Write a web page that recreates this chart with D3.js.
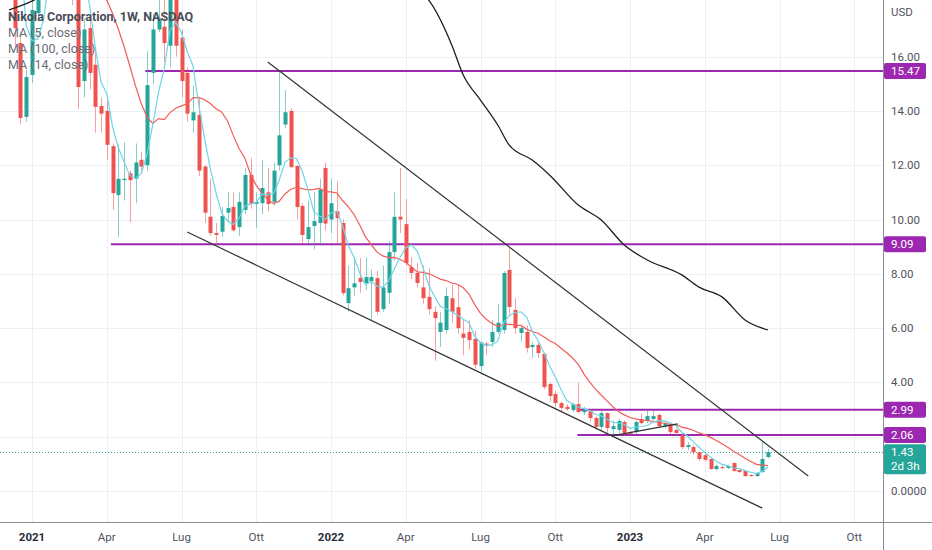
<!DOCTYPE html>
<html>
<head>
<meta charset="utf-8">
<script src="https://cdn.jsdelivr.net/npm/d3@7"></script>
<style>
  body { margin: 0; background: #fff; }
  svg { display: block; font-family: Roboto, "Liberation Sans", sans-serif; }
</style>
</head>
<body>
<div id="chart"></div>
<script>
// weekly bars, first bar week of 2020-12-07
var firstWeek = "2020-12-07";
var opens = [20.5,18.6,16.5,13.78,15.32,17.6,19.6,20.5,21.5,22.4,21.0,22.0,20.0,15.1,17.05,15.7,14.18,14.0,12.7,10.9,
  11.45,11.7,11.5,12.2,12.0,15.4,17.0,17.1,16.4,19.2,16.7,15.4,13.65,13.85,11.95,10.1,9.5,9.55,10.25,10.46,
  9.72,10.35,11.64,10.57,10.6,11.0,10.65,12.0,13.5,14.0,11.97,10.5,9.28,9.76,9.87,11.9,10.0,10.3,9.87,6.92,
  7.5,7.85,7.66,7.73,7.84,6.7,7.3,8.8,10.1,9.83,8.25,8.03,7.5,7.15,6.6,5.86,5.93,7.1,6.77,5.8,
  5.86,5.6,4.6,5.43,5.49,5.86,5.93,8.14,6.67,5.82,5.86,5.3,5.38,5.05,3.94,3.57,3.24,3.1,2.98,3.2,
  2.9,2.98,2.69,2.36,2.87,2.28,2.25,2.54,2.14,2.17,2.65,2.58,2.65,2.8,2.39,2.43,2.25,2.06,1.62,1.62,
  1.43,1.32,1.18,0.81,0.88,0.85,1.03,0.77,0.74,0.59,0.55,0.7,1.25];
var highs = [21.6,19.0,16.9,15.5,18.3,20.2,21.2,22.5,23.5,23.2,24.5,22.8,20.5,17.4,17.3,16.35,14.5,14.4,12.8,12.75,
  12.85,11.8,12.8,12.5,16.2,17.6,18.5,18.5,19.5,20.0,17.0,15.6,14.95,14.5,12.0,11.5,9.87,10.46,11.0,11.0,
  11.0,11.9,12.27,11.0,12.2,11.9,12.1,15.5,14.77,14.1,12.0,10.6,10.7,11.0,11.5,12.1,11.5,11.4,10.0,8.3,
  8.6,8.58,8.6,8.15,8.1,8.3,9.2,11.0,11.9,10.75,8.6,8.4,8.3,8.2,6.8,6.6,7.5,7.6,7.6,6.3,
  6.3,5.9,5.5,5.5,6.3,6.9,8.1,9.0,7.1,6.05,6.1,5.5,5.5,5.1,4.0,3.7,3.3,3.2,3.25,3.98,
  3.1,3.0,2.75,2.95,2.9,2.6,2.65,2.6,2.2,2.6,2.85,2.95,3.0,2.85,2.55,2.5,2.3,2.1,1.8,1.7,
  1.45,1.4,1.2,0.98,0.95,0.97,1.05,0.8,0.76,0.6,0.7,1.83,1.55];
var lows = [18.5,16.4,13.5,13.6,15.03,17.3,18.8,19.5,20.5,20.4,20.8,17.9,14.07,14.5,14.8,13.2,13.2,12.2,10.35,9.35,
  10.7,9.9,10.6,11.7,11.8,15.0,16.9,15.8,15.6,16.0,14.5,13.6,13.2,11.6,9.87,9.4,9.06,9.36,9.9,9.55,
  9.4,10.2,10.4,9.7,10.2,10.3,10.5,11.8,13.37,11.9,10.0,9.1,9.1,8.9,9.1,9.6,9.5,9.1,7.2,6.6,
  7.2,7.3,7.4,6.3,6.5,6.6,6.9,8.5,9.5,8.3,7.8,7.5,6.9,6.5,4.8,5.3,5.8,6.2,5.8,5.0,
  5.2,4.5,4.4,5.0,5.3,5.8,5.8,6.5,5.8,5.5,5.1,4.9,4.9,3.75,3.3,3.1,2.95,2.95,2.9,2.85,
  2.8,2.55,2.25,2.25,2.1,2.05,2.1,2.05,2.02,2.1,2.45,2.5,2.6,2.35,2.3,2.1,2.05,1.55,1.5,1.35,
  1.1,1.1,0.78,0.75,0.8,0.8,0.7,0.66,0.52,0.52,0.52,0.66,1.2];
var closes = [19.2,17.05,13.74,15.25,17.72,19.5,20.5,21.5,22.5,21.0,22.0,20.3,14.88,17.0,15.4,14.15,13.9,12.75,10.97,11.5,
  11.5,11.45,12.1,11.95,14.95,17.0,17.4,16.5,19.0,16.4,15.1,13.9,13.95,11.8,10.25,9.5,9.43,10.13,10.42,9.6,
  10.65,11.64,10.57,10.65,11.16,10.57,11.8,13.1,13.95,11.93,10.46,9.43,9.72,9.94,11.1,9.85,10.6,10.05,7.29,7.47,
  7.65,7.7,7.88,7.88,6.6,7.5,8.8,10.1,10.0,8.4,8.03,7.66,7.1,6.7,6.37,6.2,7.18,6.6,6.0,5.64,
  5.56,4.65,5.47,5.41,5.86,6.2,8.03,6.78,6.0,6.0,5.27,5.38,5.08,3.83,3.5,3.24,3.06,3.02,3.2,2.91,
  2.98,2.69,2.36,2.87,2.32,2.39,2.58,2.14,2.12,2.54,2.5,2.76,2.76,2.39,2.5,2.17,2.14,1.62,1.69,1.43,
  1.18,1.15,0.81,0.92,0.85,0.92,0.74,0.7,0.55,0.55,0.66,1.18,1.43];
// closes of the 13 weeks before the first bar (only feed the averages)
var priorCloses = [34.0,33.8,21.9,19.1,22.0,22.1,20.9,19.8,21.4,19.9,23.0,27.6,20.4];

var ma100Dates = ["2020-12-07","2020-12-28","2021-01-18","2021-04-26","2021-10-18","2022-01-31","2022-04-11","2022-05-02",
  "2022-05-30","2022-06-13","2022-07-04","2022-07-25","2022-08-08","2022-09-05","2022-09-26","2022-10-31",
  "2022-11-28","2022-12-26","2023-01-23","2023-03-06","2023-03-27","2023-04-24","2023-05-22","2023-06-19"];
var ma100Values = [17.72,17.95,18.25,19.2,19.9,19.4,18.6,18.08,16.43,15.32,14.4,13.48,12.74,12.19,11.64,10.53,
  9.98,9.06,8.51,7.96,7.51,7.15,6.3,5.93];

var levelValues = [15.47, 9.09, 2.99, 2.06];
var levelStarts = ["2021-05-22", "2021-04-10", "2022-10-30", "2022-10-30"];

var trendDates = [["2021-10-18","2023-08-07"], ["2021-07-12","2023-06-12"], ["2022-12-11","2023-03-01"]];
var trendValues = [[15.8, 0.55], [9.54, -0.63], [2.03, 2.47]];

var tickDates = ["2021-01-04","2021-04-05","2021-07-05","2021-10-04","2022-01-03","2022-04-04",
  "2022-07-04","2022-10-03","2023-01-02","2023-04-03","2023-07-03","2023-10-02"];
var tickLabels = ["2021","Apr","Lug","Ott","2022","Apr","Lug","Ott","2023","Apr","Lug","Ott"];
var priceTicks = [0, 2, 4, 6, 8, 10, 12, 14, 16];
var priceTickLabels = ["0.0000","2.00","4.00","6.00","8.00","10.00","12.00","14.00","16.00"];

var lastPrice = 1.43, countdown = "2d 3h";

var width = 932, height = 550,
    plotRight = 883, plotBottom = 522;
var up = "#26a69a", down = "#ef5350", purple = "#9c27b0";

var parse = d3.utcParse("%Y-%m-%d");
var start = parse(firstWeek);
var dates = closes.map(function(d, i) { return d3.utcMonday.offset(start, i); });

var x = d3.scaleUtc()
    .domain([parse("2021-01-04"), parse("2023-01-02")])
    .range([32, 630]);
var y = d3.scaleLinear()
    .domain([0, 16])
    .range([491, 491 - 16 * 27.15]);

var svg = d3.select("#chart").append("svg")
    .attr("width", width)
    .attr("height", height);

svg.append("defs").append("clipPath").attr("id", "plot")
  .append("rect").attr("width", plotRight).attr("height", plotBottom);

// grid
var grid = svg.append("g");
grid.selectAll(".hg").data(priceTicks).enter().append("line")
    .attr("x1", 0).attr("x2", plotRight)
    .attr("y1", function(d) { return Math.round(y(d)) + 0.5; })
    .attr("y2", function(d) { return Math.round(y(d)) + 0.5; })
    .attr("stroke", "#eaf0f6");
grid.selectAll(".vg").data(tickDates).enter().append("line")
    .attr("x1", function(d) { return Math.round(x(parse(d))) + 0.5; })
    .attr("x2", function(d) { return Math.round(x(parse(d))) + 0.5; })
    .attr("y1", 0).attr("y2", plotBottom)
    .attr("stroke", "#eaf0f6");

var plot = svg.append("g").attr("clip-path", "url(#plot)");

// last price dotted line
plot.append("line")
    .attr("x1", 0).attr("x2", plotRight)
    .attr("y1", Math.round(y(lastPrice)) + 0.5).attr("y2", Math.round(y(lastPrice)) + 0.5)
    .attr("stroke", up).attr("stroke-dasharray", "1,2");

// horizontal levels
plot.selectAll(".level").data(levelValues).enter().append("line")
    .attr("x1", function(d, i) { return x(parse(levelStarts[i])); })
    .attr("x2", plotRight)
    .attr("y1", function(d) { return y(d); })
    .attr("y2", function(d) { return y(d); })
    .attr("stroke", purple).attr("stroke-width", 2);

// candles
var bars = dates.map(function(d, i) {
  return { date: d, o: opens[i], h: highs[i], l: lows[i], c: closes[i] };
});
var candle = plot.selectAll(".candle").data(bars).enter().append("g");
candle.append("line")
    .attr("x1", function(d) { return Math.round(x(d.date)) + 0.5; })
    .attr("x2", function(d) { return Math.round(x(d.date)) + 0.5; })
    .attr("y1", function(d) { return y(d.h); })
    .attr("y2", function(d) { return y(d.l); })
    .attr("stroke", function(d) { return d.c >= d.o ? up : down; })
    .attr("stroke-opacity", 0.55);
candle.append("rect")
    .attr("x", function(d) { return Math.round(x(d.date)) - 1.5; })
    .attr("width", 4)
    .attr("y", function(d) { return y(Math.max(d.o, d.c)); })
    .attr("height", function(d) { return Math.max(1, Math.abs(y(d.o) - y(d.c))); })
    .attr("fill", function(d) { return d.c >= d.o ? up : down; });

// moving averages of the closes
var allCloses = priorCloses.concat(closes);
function movingAverage(n) {
  return closes.map(function(c, i) {
    var j = i + priorCloses.length;
    return d3.mean(allCloses.slice(j - n + 1, j + 1));
  });
}
var line = d3.line()
    .x(function(d) { return x(d[0]); })
    .y(function(d) { return y(d[1]); });
plot.append("path")
    .datum(d3.zip(dates, movingAverage(14)))
    .attr("d", line).attr("fill", "none").attr("stroke", "#f25b58").attr("stroke-width", 1.2);
plot.append("path")
    .datum(d3.zip(dates, movingAverage(5)))
    .attr("d", line).attr("fill", "none").attr("stroke", "#6fd5e6").attr("stroke-width", 1.2);
plot.append("path")
    .datum(d3.zip(ma100Dates.map(parse), ma100Values))
    .attr("d", line.curve(d3.curveMonotoneX)).attr("fill", "none").attr("stroke", "#1e1e1e").attr("stroke-width", 1.3);

// trend lines
plot.selectAll(".trend").data(trendDates).enter().append("line")
    .attr("x1", function(d) { return x(parse(d[0])); })
    .attr("x2", function(d) { return x(parse(d[1])); })
    .attr("y1", function(d, i) { return y(trendValues[i][0]); })
    .attr("y2", function(d, i) { return y(trendValues[i][1]); })
    .attr("stroke", "#333").attr("stroke-width", 1.2);

// legend
var legend = svg.append("g").attr("font-size", 12.5);
legend.append("text").attr("x", 8).attr("y", 21)
    .attr("fill", "#4a4d57").attr("font-weight", "bold")
    .text("Nikola Corporation, 1W, NASDAQ");
["MA (5, close)", "MA (100, close)", "MA (14, close)"].forEach(function(t, i) {
  legend.append("text").attr("x", 8).attr("y", 37 + i * 16)
      .attr("fill", "#6a6d78").text(t);
});

// axes frame
svg.append("line").attr("x1", plotRight + 0.5).attr("x2", plotRight + 0.5)
    .attr("y1", 0).attr("y2", height).attr("stroke", "#8a8d96");
svg.append("line").attr("x1", 0).attr("x2", width)
    .attr("y1", plotBottom + 0.5).attr("y2", plotBottom + 0.5).attr("stroke", "#8a8d96");

// price axis labels
var axis = svg.append("g").attr("font-size", 11.5).attr("fill", "#50535e");
axis.append("text").attr("x", 891).attr("y", 16).text("USD");
axis.selectAll(".pt").data(priceTicks).enter().append("text")
    .attr("x", 891).attr("y", function(d) { return y(d) + 4; })
    .text(function(d, i) { return priceTickLabels[i]; });

// time axis labels
axis.selectAll(".tt").data(tickDates).enter().append("text")
    .attr("x", function(d) { return x(parse(d)); })
    .attr("y", 541)
    .attr("text-anchor", "middle")
    .attr("font-weight", function(d, i) { return /^\d+$/.test(tickLabels[i]) ? "bold" : "normal"; })
    .attr("fill", function(d, i) { return /^\d+$/.test(tickLabels[i]) ? "#2a2e39" : "#50535e"; })
    .text(function(d, i) { return tickLabels[i]; });

// level price tags
var tags = svg.selectAll(".tag").data(levelValues).enter().append("g")
    .attr("transform", function(d) { return "translate(884," + (y(d) - 8) + ")"; });
tags.append("rect").attr("width", 42).attr("height", 16).attr("rx", 2).attr("fill", purple);
tags.append("text").attr("x", 7).attr("y", 12).attr("font-size", 11.5).attr("fill", "#fff")
    .text(function(d) { return d.toFixed(2); });

// last price tag
var lp = svg.append("g").attr("transform", "translate(884," + (y(lastPrice) - 8) + ")");
lp.append("rect").attr("width", 42).attr("height", 30).attr("rx", 2).attr("fill", up);
lp.append("text").attr("x", 7).attr("y", 12).attr("font-size", 11.5).attr("fill", "#fff")
    .text(lastPrice.toFixed(2));
lp.append("text").attr("x", 7).attr("y", 26).attr("font-size", 11.5).attr("fill", "#fff")
    .text(countdown);
</script>
</body>
</html>
